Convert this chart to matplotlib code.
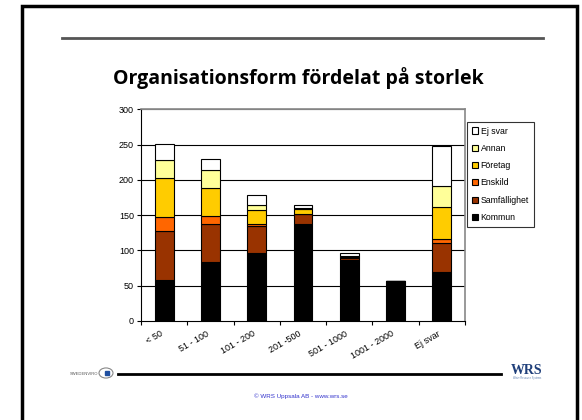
import matplotlib.pyplot as plt
import numpy as np
from matplotlib.lines import Line2D
from matplotlib.patches import Rectangle, Circle

categories = ["< 50", "51 - 100", "101 - 200", "201 -500", "501 - 1000", "1001 - 2000", "Ej svar"]
kommun = [58, 84, 97, 137, 86, 56, 69]
samfallighet = [70, 54, 37, 14, 3, 0, 41]
enskild = [20, 11, 3, 1, 1, 0, 6]
foretag = [54, 40, 20, 7, 1, 0, 45]
annan = [26, 25, 7, 1, 1, 0, 30]
ej_svar = [23, 15, 14, 5, 4, 0, 57]

series = [("Kommun", kommun, "#000000"),
          ("Samfällighet", samfallighet, "#993300"),
          ("Enskild", enskild, "#FF6600"),
          ("Företag", foretag, "#FFCC00"),
          ("Annan", annan, "#FFFF99"),
          ("Ej svar", ej_svar, "#FFFFFF")]

plt.rcParams['font.family'] = ['Liberation Sans', 'DejaVu Sans']

W, H = 582, 420
fig = plt.figure(figsize=(W / 100, H / 100), dpi=100)


def fx(px):
    return px / W


def fy(py):
    return 1 - py / H


# slide frame
fig.patches.append(Rectangle((fx(22), -0.1), fx(577) - fx(22), fy(6) + 0.1,
                             transform=fig.transFigure, fill=False,
                             edgecolor="black", linewidth=2.5))
fig.lines.append(Line2D([fx(62), fx(543)], [fy(38), fy(38)], transform=fig.transFigure,
                        color="#555555", linewidth=2))
fig.lines.append(Line2D([fx(118), fx(501)], [fy(374), fy(374)], transform=fig.transFigure,
                        color="black", linewidth=2))

fig.text(fx(298), fy(78), "Organisationsform fördelat på storlek", ha="center", va="center",
         fontsize=14, fontweight="bold", family=["Open Sans", "DejaVu Sans"])

# logos / footer
fig.text(fx(84), fy(374), "SWEDENVIRO", ha="center", va="center", fontsize=3, color="#555555")
fig.patches.append(Circle((fx(106), fy(373)), 7 / W, transform=fig.transFigure,
                          fill=False, edgecolor="#888888", linewidth=0.8))
fig.patches.append(Rectangle((fx(105), fy(375)), 4 / W, 4 / H, transform=fig.transFigure,
                             color="#1f4fa0"))
fig.text(fx(527), fy(370), "WRS", ha="center", va="center", fontsize=10, fontweight="bold",
         color="#1f3f7a", family=["Liberation Serif", "DejaVu Serif"])
fig.text(fx(527), fy(378), "Water Resource Systems", ha="center", va="center", fontsize=1.8,
         color="#6080b0")
fig.text(fx(301), fy(396), "© WRS Uppsala AB - www.wrs.se", ha="center", va="center",
         fontsize=4.5, color="#3333CC")

# chart
ax = fig.add_axes([fx(141), fy(321), fx(465) - fx(141), fy(109.3) - fy(321)])
x = np.arange(len(categories))
bottom = np.zeros(len(categories))
handles = []
for name, vals, col in series:
    b = ax.bar(x, vals, width=0.41, bottom=bottom, color=col, edgecolor="black",
               linewidth=0.8, label=name, zorder=3)
    bottom += np.array(vals)
    handles.append(b)

ax.set_xlim(-0.5, len(categories) - 0.5)
ax.set_ylim(0, 300)
ax.set_yticks(range(0, 301, 50))
for v in range(50, 301, 50):
    ax.axhline(v, color="black", linewidth=0.8, zorder=1)
ax.axhline(300, color="#888888", linewidth=1.2, zorder=1)

ax.set_xticks(x)
ax.set_xticklabels(categories, rotation=30, ha="right", fontsize=6.5)
ax.set_xticks(np.arange(-0.5, len(categories)), minor=True)
ax.tick_params(axis="x", which="major", length=0, pad=6)
ax.tick_params(axis="x", which="minor", length=3, width=0.8, direction="out")
ax.tick_params(axis="y", length=3, width=0.8, direction="out", labelsize=6.5, pad=2)

for s in ["top", "right"]:
    ax.spines[s].set_color("#888888")
    ax.spines[s].set_linewidth(1.2)
for s in ["left", "bottom"]:
    ax.spines[s].set_linewidth(0.8)

leg = ax.legend(handles[::-1], [s[0] for s in series][::-1],
                loc="upper left", bbox_to_anchor=(fx(467), fy(121.7)),
                bbox_transform=fig.transFigure, fontsize=6.3, frameon=True,
                fancybox=False, edgecolor="black", handlelength=0.7, handleheight=0.7,
                handletextpad=0.3, labelspacing=0.95, borderpad=0.55, borderaxespad=0)
leg.get_frame().set_linewidth(0.8)

fig.savefig("out.png", dpi=100)
